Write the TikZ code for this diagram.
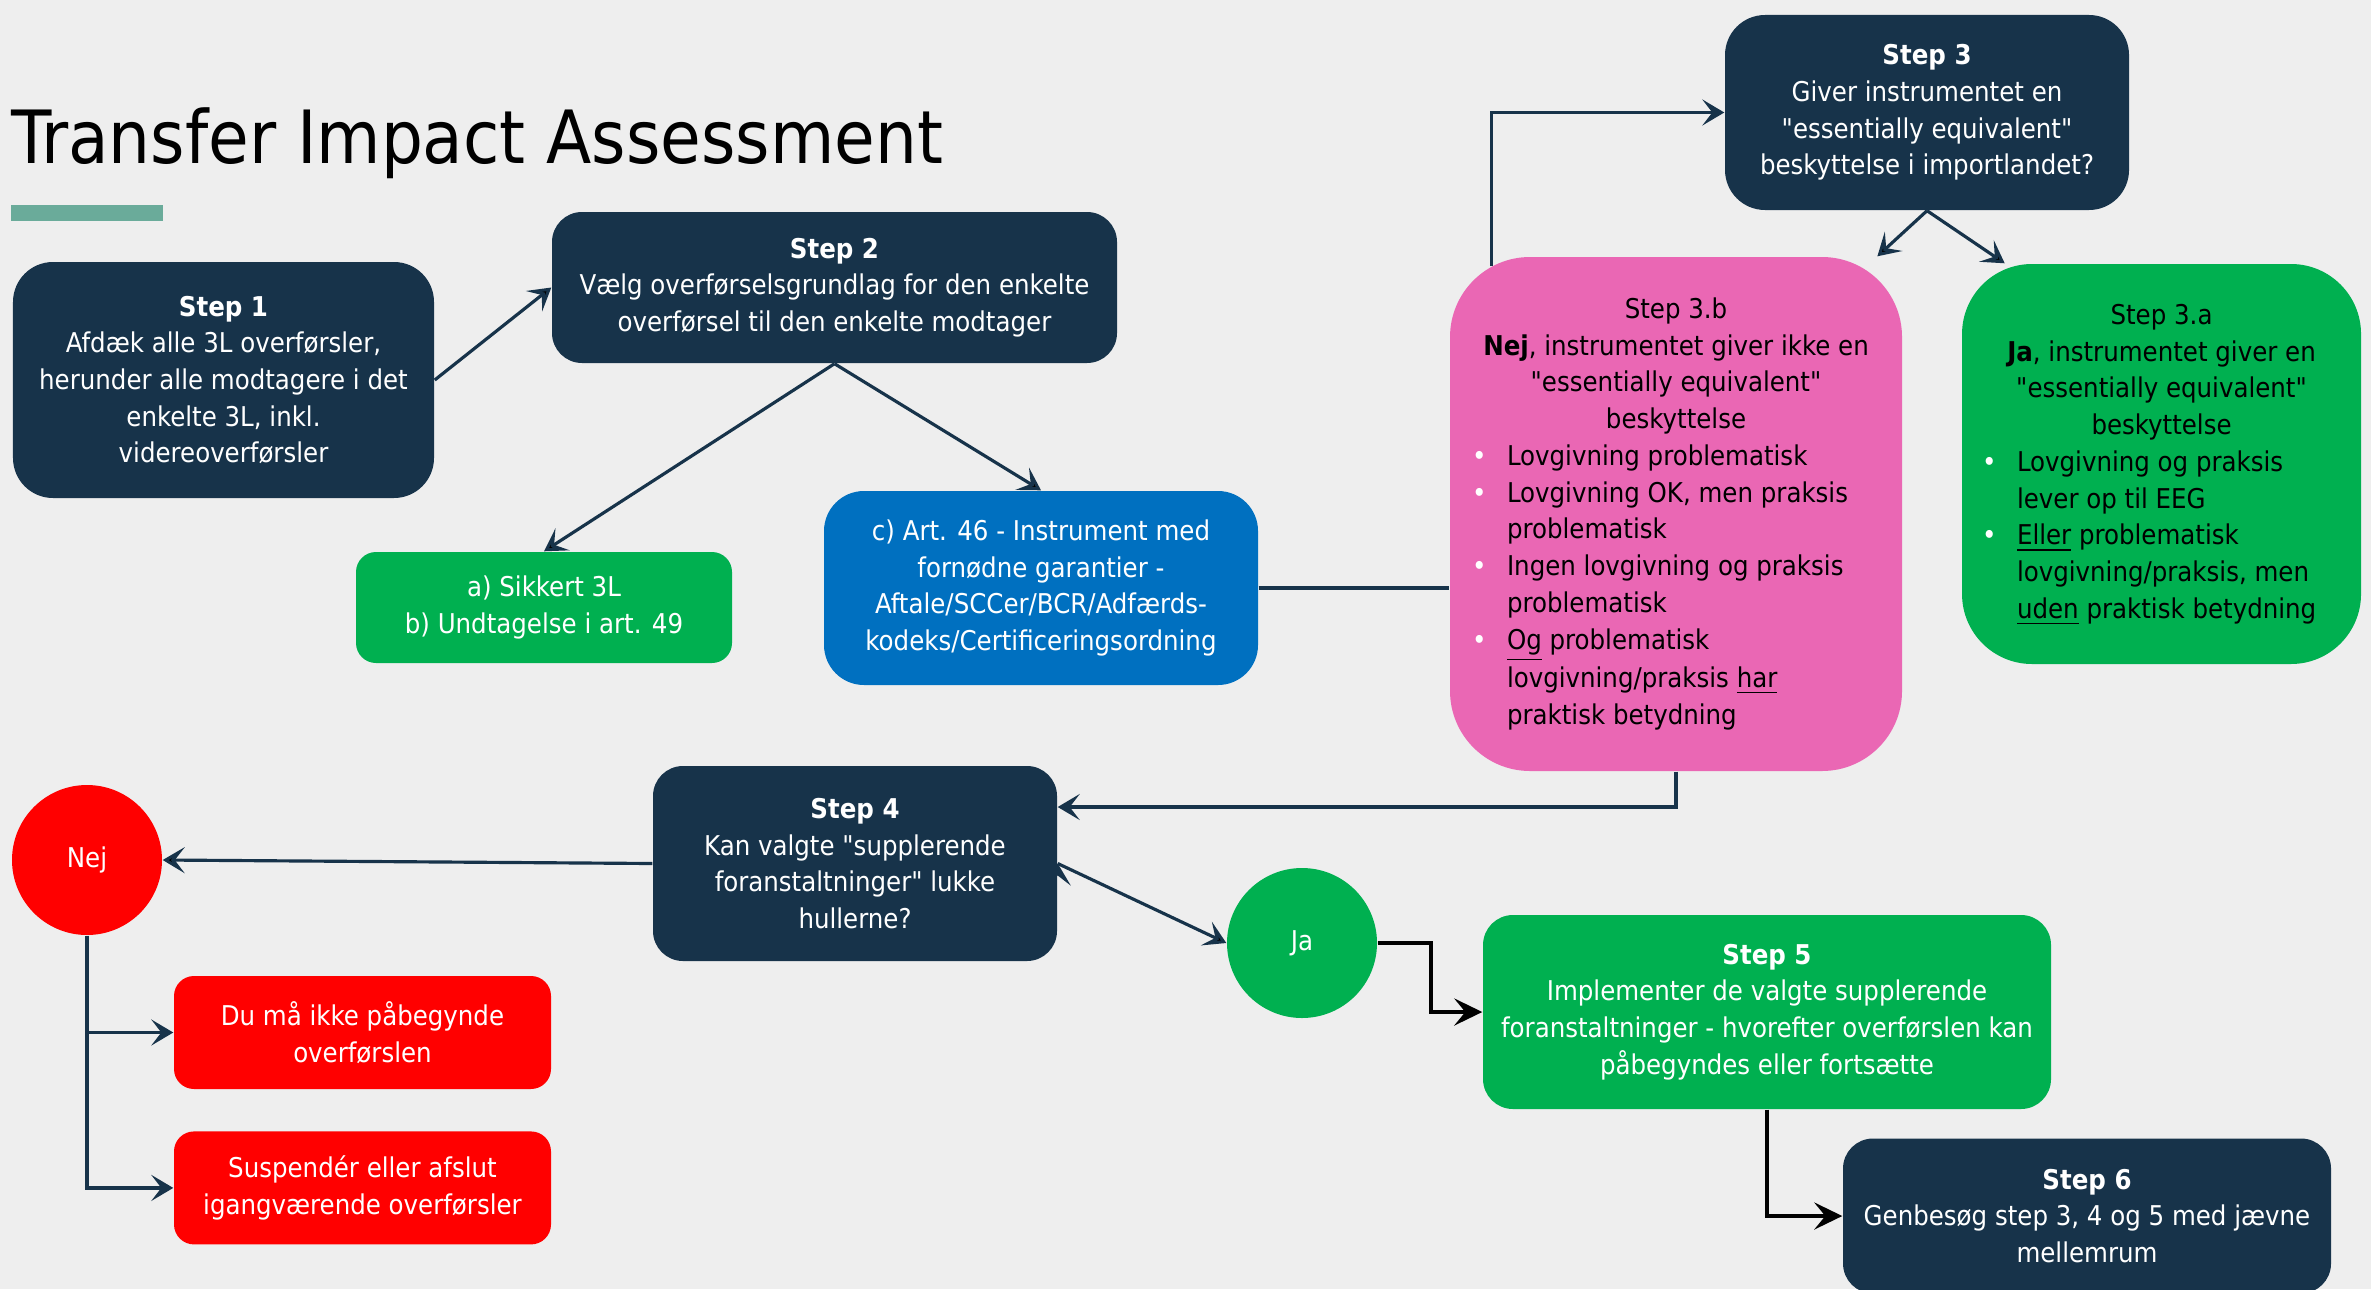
\documentclass[tikz,border=0pt]{standalone}
\usepackage{fontspec}
\setmainfont{DejaVu Sans Condensed}[Ligatures=TeXOff]
\usetikzlibrary{arrows.meta, calc, positioning, shapes}
\definecolor{navy}{HTML}{17334A}
\definecolor{tiagreen}{HTML}{00B050}
\definecolor{tiablue}{HTML}{0070C0}
\definecolor{tiapink}{HTML}{EA67B4}
\definecolor{tiared}{HTML}{FF0000}
\definecolor{tiabg}{HTML}{EEEEEE}
\definecolor{tiateal}{HTML}{6AAB9A}
\newcommand{\bodyfont}{\fontsize{7.75}{10.45}\selectfont}
\newcommand{\titlefont}{\fontsize{20.9}{25}\selectfont}
\newcommand{\tiabullet}{\leavevmode{\color{white}\textbullet}}
\tikzset
{%
box/.style={rectangle, rounded corners=3mm, inner sep=0pt, font=\bodyfont, text=white, fill=navy},
stepbox/.style={box, align=center},
listbox/.style={box, text=black, rounded corners=8mm},
circ/.style={circle, minimum size=1.5cm, inner sep=0pt, font=\bodyfont, text=white},
bar/.style={fill=tiateal, minimum width=1.52cm, minimum height=0.16cm, inner sep=0pt},
arr/.style={-{Stealth[length=2.2mm, width=2.6mm, inset=1mm]}, line width=0.9pt, draw=navy},
blackarr/.style={-{Stealth[length=2.8mm, width=2.7mm, inset=1.1mm]}, line width=1.2pt, draw=black}
}

\begin{document}
\begin{tikzpicture}
	\useasboundingbox (0,0) rectangle (23.71,12.89);
	\fill[tiabg] (0,0) rectangle (23.71,12.89);

	%Title
	\node[anchor=base west, inner sep=0pt, font=\titlefont] (title) at (0.11,11.26) {Transfer Impact Assessment};
	\node[bar] (bar) at (0.87,10.76) {};

	%Step 1 and 2
	\node[stepbox, minimum width=4.21cm, minimum height=2.36cm, rounded corners=4mm] (step1) at (2.235,9.09)
		{\textbf{Step 1}\\Afdæk alle 3L overførsler,\\herunder alle modtagere i det\\enkelte 3L, inkl.\\videreoverførsler};
	\node[stepbox, minimum width=5.65cm, minimum height=1.51cm] (step2) at (8.345,10.015)
		{\textbf{Step 2}\\Vælg overførselsgrundlag for den enkelte\\overførsel til den enkelte modtager};
	\node[stepbox, fill=tiagreen, minimum width=3.76cm, minimum height=1.11cm, rounded corners=2mm] (ab) at (5.44,6.815)
		{a) Sikkert 3L\\b) Undtagelse i art. 49};
	\node[stepbox, fill=tiablue, minimum width=4.34cm, minimum height=1.94cm, rounded corners=4mm] (art46) at (10.41,7.01)
		{c) Art. 46 - Instrument med\\fornødne garantier -\\Aftale/SCCer/BCR/Adfærds-\\kodeks/Certificeringsordning};

	%Step 3
	\node[stepbox, minimum width=4.04cm, minimum height=1.95cm, rounded corners=4mm] (step3) at (19.27,11.765)
		{\textbf{Step 3}\\Giver instrumentet en\\"essentially equivalent"\\beskyttelse i importlandet?};
	\node[listbox, fill=tiapink, minimum width=4.52cm, minimum height=5.14cm] (step3b) at (16.76,7.75)
		{\begin{tabular}{@{}p{0.35cm}@{}p{3.73cm}@{}}
		\multicolumn{2}{@{}c@{}}{Step 3.b}\\
		\multicolumn{2}{@{}c@{}}{\textbf{Nej}, instrumentet giver ikke en}\\
		\multicolumn{2}{@{}c@{}}{"essentially equivalent"}\\
		\multicolumn{2}{@{}c@{}}{beskyttelse}\\
		\tiabullet & Lovgivning problematisk\\
		\tiabullet & Lovgivning OK, men praksis\\
		& problematisk\\
		\tiabullet & Ingen lovgivning og praksis\\
		& problematisk\\
		\tiabullet & \underline{Og} problematisk\\
		& lovgivning/praksis \underline{har}\\
		& praktisk betydning
		\end{tabular}};
	\node[listbox, fill=tiagreen, minimum width=3.99cm, minimum height=4cm, rounded corners=7mm] (step3a) at (21.615,8.25)
		{\begin{tabular}{@{}p{0.35cm}@{}p{3.24cm}@{}}
		\multicolumn{2}{@{}c@{}}{Step 3.a}\\
		\multicolumn{2}{@{}c@{}}{\textbf{Ja}, instrumentet giver en}\\
		\multicolumn{2}{@{}c@{}}{"essentially equivalent"}\\
		\multicolumn{2}{@{}c@{}}{beskyttelse}\\
		\tiabullet & Lovgivning og praksis\\
		& lever op til EEG\\
		\tiabullet & \underline{Eller} problematisk\\
		& lovgivning/praksis, men\\
		& \underline{uden} praktisk betydning
		\end{tabular}};

	%Step 4
	\node[stepbox, minimum width=4.04cm, minimum height=1.95cm] (step4) at (8.55,4.255)
		{\textbf{Step 4}\\Kan valgte "supplerende\\foranstaltninger" lukke\\hullerne?};
	\node[circ, fill=tiared] (nej) at (0.87,4.29) {Nej};
	\node[circ, fill=tiagreen] (ja) at (13.02,3.46) {Ja};
	\node[stepbox, fill=tiared, minimum width=3.77cm, minimum height=1.13cm, rounded corners=2mm] (stop1) at (3.625,2.565)
		{Du må ikke påbegynde\\overførslen};
	\node[stepbox, fill=tiared, minimum width=3.77cm, minimum height=1.13cm, rounded corners=2mm, below=0.41cm of stop1] (stop2)
		{Suspendér eller afslut\\igangværende overførsler};

	%Step 5 and 6
	\node[stepbox, fill=tiagreen, minimum width=5.68cm, minimum height=1.94cm] (step5) at (17.67,2.77)
		{\textbf{Step 5}\\Implementer de valgte supplerende\\foranstaltninger - hvorefter overførslen kan\\påbegyndes eller fortsætte};
	\node[stepbox, minimum width=4.88cm, minimum height=1.55cm] (step6) at (20.87,0.73)
		{\textbf{Step 6}\\Genbesøg step 3, 4 og 5 med jævne\\mellemrum};

	\path[arr] (step1.east) edge (step2.west)
	(step2.south) edge (ab.north)
	(step2.south) edge (art46.north)
	(step3.south) edge (step3b.52)
	(step3.south) edge (step3a.128)
	(step4.west) edge (nej.east)
	(step4.east) edge (ja.west);
	\draw[line width=0.9pt, navy] (art46.east) -- (art46.east -| step3b.west);
	\draw[arr] ([xshift=4.2mm, yshift=-1mm]step3b.north west) |- (step3.west);
	\draw[arr] (step3b.south) |- ([yshift=5.65mm]step4.east);
	\draw[arr] (nej.south) |- (stop1.west);
	\draw[arr] (nej.south) |- (stop2.west);
	\draw[blackarr] (ja.east) -- ++(0.53,0) |- (step5.west);
	\draw[blackarr] (step5.south) |- (step6.west);
\end{tikzpicture}
\end{document}
